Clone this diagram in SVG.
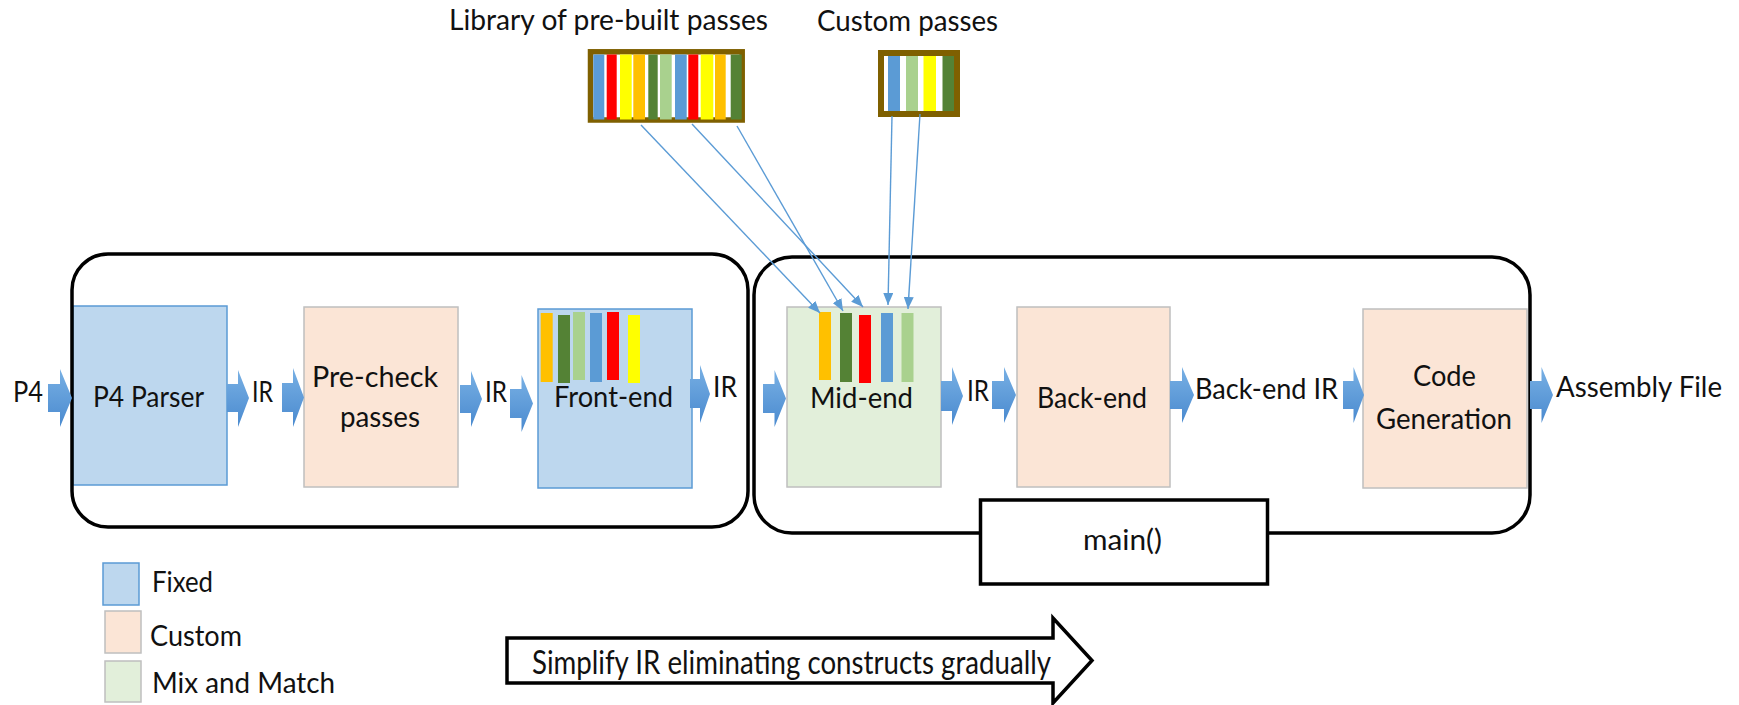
<svg xmlns="http://www.w3.org/2000/svg" width="1739" height="705" viewBox="0 0 1739 705">
<style>
text{font-family:"Lato","Liberation Sans",sans-serif;font-size:29.5px;fill:#111}
.fixed{fill:#BDD7EE;stroke:#5B9BD5;stroke-width:1.5}
.custom{fill:#FBE5D6;stroke:#BFBFBF;stroke-width:1.5}
.mix{fill:#E2EFDA;stroke:#BFBFBF;stroke-width:1.5}
.frame{fill:none;stroke:#000;stroke-width:3.5}
.barr{fill:url(#bg)}
.conn{stroke:#5B9BD5;stroke-width:1.4;fill:none;marker-end:url(#ah)}
.lib{fill:#fff;stroke:#7F6000}
.b{fill:#5B9BD5}.r{fill:#FF0000}.y{fill:#FFFF00}.o{fill:#FFC000}.dg{fill:#548235}.lg{fill:#A9D18E}
</style>
<defs>
<linearGradient id="bg" x1="0" y1="0" x2="0" y2="1">
<stop offset="0" stop-color="#78B0E4"/>
<stop offset="1" stop-color="#4A8ACF"/>
</linearGradient>
<marker id="ah" viewBox="0 0 12 10" refX="12" refY="5" markerWidth="12" markerHeight="10" markerUnits="userSpaceOnUse" orient="auto">
<path d="M0,0 L12,5 L0,10 Z" fill="#5B9BD5"/>
</marker>
</defs>

<!-- Library of pre-built passes -->
<g id="library">
<text x="449" y="30" textLength="319" lengthAdjust="spacingAndGlyphs">Library of pre-built passes</text>
<rect class="lib" x="590.5" y="51.8" width="151.7" height="68.2" stroke-width="5.5"/>
<rect class="b" x="593.3" y="54.5" width="11" height="65"/>
<rect class="r" x="606.7" y="54.5" width="10" height="65"/>
<rect class="y" x="620" y="54.5" width="11.7" height="65"/>
<rect class="o" x="633.3" y="54.5" width="11.7" height="65"/>
<rect class="dg" x="648.3" y="54.5" width="9.4" height="65"/>
<rect class="lg" x="660" y="54.5" width="11.7" height="65"/>
<rect class="b" x="675" y="54.5" width="11.7" height="65"/>
<rect class="r" x="688.3" y="54.5" width="10" height="65"/>
<rect class="y" x="700.7" y="54.5" width="12.6" height="65"/>
<rect class="o" x="715" y="54.5" width="10.7" height="65"/>
<rect class="dg" x="730.7" y="54.5" width="11" height="65"/>
</g>

<!-- Custom passes -->
<g id="custom-passes">
<text x="817" y="31" textLength="181" lengthAdjust="spacingAndGlyphs">Custom passes</text>
<rect class="lib" x="881" y="53" width="76" height="61" stroke-width="6"/>
<rect class="b" x="888" y="56" width="12" height="55"/>
<rect class="lg" x="906" y="56" width="12" height="55"/>
<rect class="y" x="923.5" y="56" width="12.5" height="55"/>
<rect class="dg" x="942.5" y="56" width="11.5" height="55"/>
</g>

<!-- Nodes -->
<g id="p4-parser">
<rect class="fixed" x="73" y="306" width="154" height="179"/>
<text x="93" y="407" textLength="111" lengthAdjust="spacingAndGlyphs">P4 Parser</text>
</g>
<g id="pre-check">
<rect class="custom" x="304" y="307" width="154" height="180"/>
<text x="312" y="387" textLength="126" lengthAdjust="spacingAndGlyphs">Pre-check</text>
<text x="340" y="427" textLength="80" lengthAdjust="spacingAndGlyphs">passes</text>
</g>
<g id="front-end">
<rect class="fixed" x="538" y="309" width="154" height="179"/>
<rect class="o" x="540.7" y="313" width="12" height="69"/>
<rect class="dg" x="558" y="315" width="12" height="68"/>
<rect class="lg" x="573" y="312" width="12" height="68"/>
<rect class="b" x="590" y="313" width="12" height="69"/>
<rect class="r" x="607" y="312" width="12" height="68"/>
<rect class="y" x="628" y="315" width="12" height="68"/>
<text x="554" y="407" textLength="119" lengthAdjust="spacingAndGlyphs">Front-end</text>
</g>
<g id="mid-end">
<rect class="mix" x="787" y="307" width="154" height="180"/>
<rect class="o" x="819" y="312" width="12" height="68"/>
<rect class="dg" x="840" y="313" width="12" height="69"/>
<rect class="r" x="859" y="315" width="12" height="68"/>
<rect class="b" x="881" y="313" width="12" height="69"/>
<rect class="lg" x="901.5" y="313" width="12" height="69"/>
<text x="810" y="408" textLength="103" lengthAdjust="spacingAndGlyphs">Mid-end</text>
</g>
<g id="back-end">
<rect class="custom" x="1017" y="307" width="153" height="180"/>
<text x="1037" y="408" textLength="110" lengthAdjust="spacingAndGlyphs">Back-end</text>
</g>
<g id="code-generation">
<rect class="custom" x="1363" y="309" width="164" height="179"/>
<text x="1413" y="386" textLength="63" lengthAdjust="spacingAndGlyphs">Code</text>
<text x="1376" y="429" textLength="136" lengthAdjust="spacingAndGlyphs">Generation</text>
</g>

<!-- Grouping frames -->
<g id="frontend-group">
<rect class="frame" x="72" y="254" width="676" height="273" rx="36" ry="36"/>
</g>
<g id="backend-group">
<rect class="frame" x="754" y="257" width="776" height="276" rx="38" ry="38"/>
</g>
<g id="main">
<rect x="980.5" y="500" width="287" height="84" fill="#fff" stroke="#000" stroke-width="3.5"/>
<text x="1083" y="550" textLength="79" lengthAdjust="spacingAndGlyphs">main()</text>
</g>

<!-- Flow block arrows -->
<g id="flow-arrows">
<path class="barr" d="M48,384 H60 V369 L72,398 L60,427 V412 H48 Z"/>
<path class="barr" d="M227,384 H238 V370 L249,398 L238,427 V412 H227 Z"/>
<path class="barr" d="M282,383 H293 V368 L304,397.5 L293,427 V412 H282 Z"/>
<path class="barr" d="M460,385 H471 V371 L482,399 L471,427 V413 H460 Z"/>
<path class="barr" d="M510,389 H521.5 V375 L533,403.5 L521.5,432 V418 H510 Z"/>
<path class="barr" d="M690,379 H700 V365 L710,394 L700,423 V408 H690 Z"/>
<path class="barr" d="M763,384 H774.5 V370 L786,398.5 L774.5,427 V413 H763 Z"/>
<path class="barr" d="M941,381 H952 V367 L963,396 L952,425 V411 H941 Z"/>
<path class="barr" d="M992,381 H1004 V367 L1016,395 L1004,423 V409 H992 Z"/>
<path class="barr" d="M1170,381 H1182 V367 L1194,395 L1182,423 V409 H1170 Z"/>
<path class="barr" d="M1343,381 H1353.5 V367 L1364,395 L1353.5,423 V409 H1343 Z"/>
<path class="barr" d="M1530,381 H1541.5 V367 L1553,395 L1541.5,423 V409 H1530 Z"/>
</g>

<!-- Flow labels -->
<g id="flow-labels">
<text x="13" y="402" textLength="30" lengthAdjust="spacingAndGlyphs">P4</text>
<text x="252" y="402" textLength="21" lengthAdjust="spacingAndGlyphs">IR</text>
<text x="485" y="402" textLength="22" lengthAdjust="spacingAndGlyphs">IR</text>
<text x="713" y="397" textLength="24" lengthAdjust="spacingAndGlyphs">IR</text>
<text x="967" y="401" textLength="22" lengthAdjust="spacingAndGlyphs">IR</text>
<text x="1195" y="399" textLength="143" lengthAdjust="spacingAndGlyphs">Back-end IR</text>
<text x="1556" y="397" textLength="166" lengthAdjust="spacingAndGlyphs">Assembly File</text>
</g>

<!-- Connectors from pass libraries to mid-end -->
<g id="connectors">
<line class="conn" x1="641" y1="125" x2="820" y2="313"/>
<line class="conn" x1="692" y1="124" x2="863" y2="307"/>
<line class="conn" x1="737" y1="126" x2="843" y2="311"/>
<line class="conn" x1="892" y1="116" x2="888" y2="305"/>
<line class="conn" x1="920" y1="114" x2="908" y2="309"/>
</g>

<!-- Legend -->
<g id="legend">
<rect class="fixed" x="103" y="563" width="36" height="42"/>
<text x="152" y="592" textLength="61" lengthAdjust="spacingAndGlyphs">Fixed</text>
<rect class="custom" x="105" y="611" width="36" height="42"/>
<text x="150" y="646" textLength="92" lengthAdjust="spacingAndGlyphs">Custom</text>
<rect class="mix" x="105" y="661" width="36" height="41"/>
<text x="152" y="693" textLength="183" lengthAdjust="spacingAndGlyphs">Mix and Match</text>
</g>

<!-- Simplify arrow -->
<g id="simplify-arrow">
<path d="M507,638 H1053 V618 L1092,660.5 L1053,703 V683 H507 Z" fill="#fff" stroke="#000" stroke-width="3.5" stroke-linejoin="miter"/>
<text x="532" y="674" textLength="519" lengthAdjust="spacingAndGlyphs" style="font-size:32px">Simplify IR eliminating constructs gradually</text>
</g>
</svg>
